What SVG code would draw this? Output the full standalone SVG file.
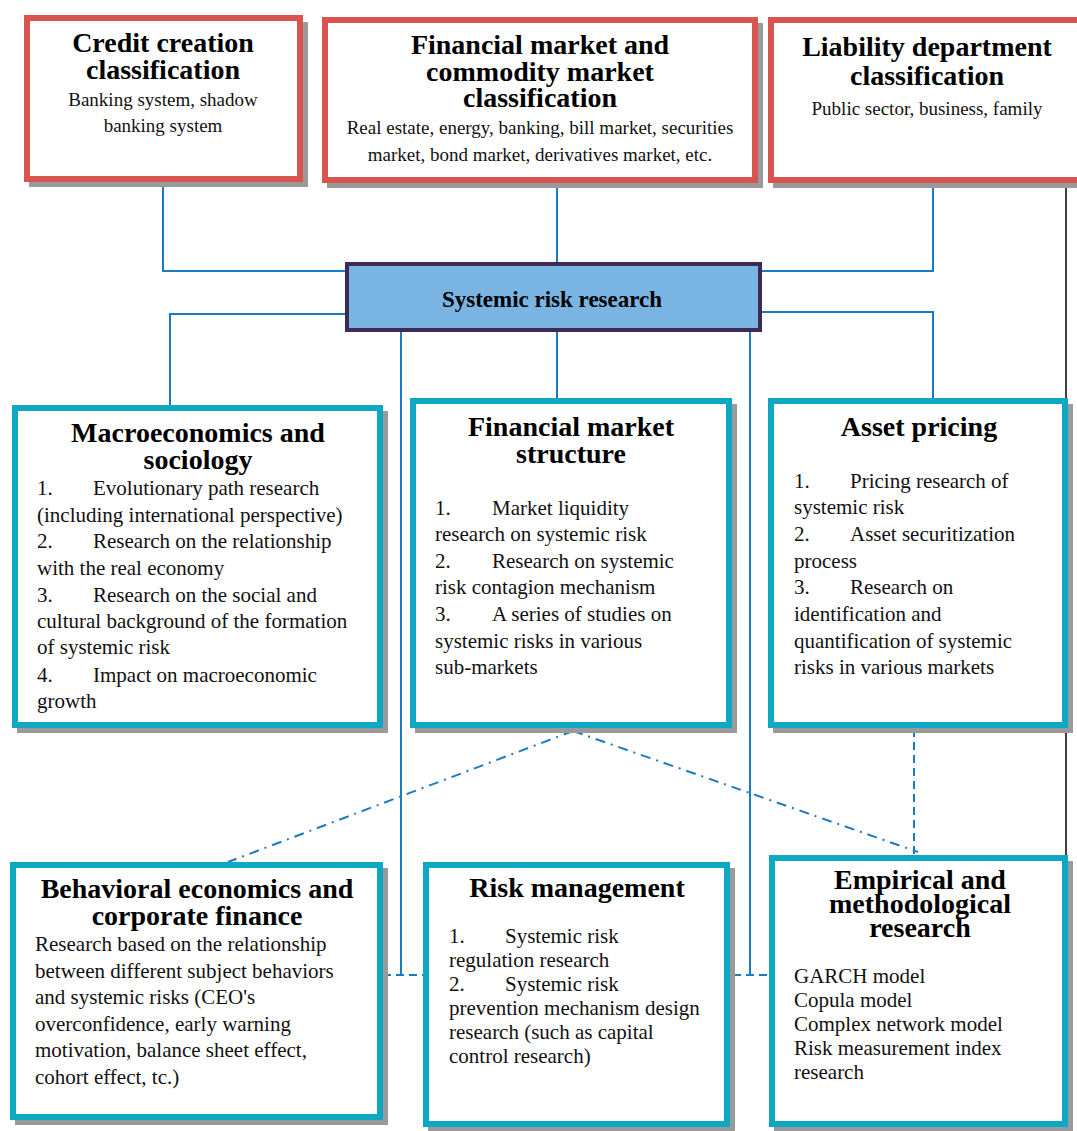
<svg xmlns="http://www.w3.org/2000/svg" width="1077" height="1131" viewBox="0 0 1077 1131">
  <style>
    .shadow { fill: #9a9a9a; }
    .redbox { fill: #ffffff; stroke: #d9534f; stroke-width: 6; }
    .tealbox { fill: #ffffff; stroke: #0ea8c5; stroke-width: 6; }
    .core { fill: #7ab4e3; stroke: #3e2b55; stroke-width: 4; }
    text { font-family: 'Liberation Serif', Tinos, 'Times New Roman', Times, 'Noto Serif', 'DejaVu Serif', serif; }
    .title { font-weight: bold; font-size: 28px; fill: #000; text-anchor: middle; }
    .sub { font-size: 19px; fill: #111; text-anchor: middle; }
    .body { font-size: 21px; fill: #111; }
    .link { fill: none; stroke: #1a7bc4; stroke-width: 2; }
    .dash { fill: none; stroke: #1a7bc4; stroke-width: 2; stroke-dasharray: 8 5; }
    .dashdot { fill: none; stroke: #1a7bc4; stroke-width: 2; stroke-dasharray: 10 6 2 6; }
    .frame { fill: none; stroke: #000; stroke-width: 1.5; }
  </style>

  <rect width="1077" height="1131" fill="#ffffff"/>

  <!-- right-hand frame rule -->
  <path class="frame" d="M1066,183 V1131"/>

  <!-- connectors -->
  <g id="connectors">
    <path class="link" d="M163,182 V271 H347"/>
    <path class="link" d="M557,183 V264"/>
    <path class="link" d="M933,183 V271 H760"/>
    <path class="link" d="M347,314 H170 V408"/>
    <path class="link" d="M557,330 V401"/>
    <path class="link" d="M760,312 H933 V401"/>
    <path class="link" d="M401,330 V975"/>
    <path class="link" d="M750,330 V975"/>
    <path class="dash" d="M383,975 H426"/>
    <path class="dash" d="M733,975 H772"/>
    <path class="dash" d="M914,729 V855"/>
    <path class="dashdot" d="M573,731 L228,862"/>
    <path class="dashdot" d="M573,731 L918,852"/>
  </g>

  <!-- top row -->
  <g id="credit-creation">
    <rect class="shadow" x="29" y="22" width="279" height="165"/>
    <rect class="redbox" x="27" y="18" width="273" height="161"/>
    <text class="title" x="163" y="52">Credit creation</text>
    <text class="title" x="163" y="79">classification</text>
    <text class="sub" x="163" y="106">Banking system, shadow</text>
    <text class="sub" x="163" y="132">banking system</text>
  </g>

  <g id="market-classification">
    <rect class="shadow" x="327" y="23" width="436" height="165"/>
    <rect class="redbox" x="325" y="20" width="430" height="160"/>
    <text class="title" x="540" y="54">Financial market and</text>
    <text class="title" x="540" y="81">commodity market</text>
    <text class="title" x="540" y="107">classification</text>
    <text class="sub" x="540" y="134">Real estate, energy, banking, bill market, securities</text>
    <text class="sub" x="540" y="161">market, bond market, derivatives market, etc.</text>
  </g>

  <g id="liability-classification">
    <rect class="shadow" x="773" y="23" width="330" height="165"/>
    <rect class="redbox" x="771" y="20" width="330" height="160"/>
    <text class="title" x="927" y="56">Liability department</text>
    <text class="title" x="927" y="85">classification</text>
    <text class="sub" x="927" y="115">Public sector, business, family</text>
  </g>

  <!-- hub -->
  <g id="systemic-risk-research">
    <rect class="core" x="347" y="264" width="413" height="66"/>
    <text class="title" x="552" y="307" style="font-size:23px">Systemic risk research</text>
  </g>

  <!-- middle row -->
  <g id="macroeconomics">
    <rect class="shadow" x="17" y="411" width="371" height="322"/>
    <rect class="tealbox" x="15" y="408" width="365" height="317"/>
    <text class="title" x="198" y="442">Macroeconomics and</text>
    <text class="title" x="198" y="469">sociology</text>
    <text class="body">
      <tspan x="37" y="495">1.</tspan><tspan x="93" y="495">Evolutionary path research</tspan>
      <tspan x="37" y="522">(including international perspective)</tspan>
      <tspan x="37" y="548">2.</tspan><tspan x="93" y="548">Research on the relationship</tspan>
      <tspan x="37" y="575">with the real economy</tspan>
      <tspan x="37" y="602">3.</tspan><tspan x="93" y="602">Research on the social and</tspan>
      <tspan x="37" y="628">cultural background of the formation</tspan>
      <tspan x="37" y="654">of systemic risk</tspan>
      <tspan x="37" y="682">4.</tspan><tspan x="93" y="682">Impact on macroeconomic</tspan>
      <tspan x="37" y="708">growth</tspan>
    </text>
  </g>

  <g id="market-structure">
    <rect class="shadow" x="415" y="404" width="322" height="329"/>
    <rect class="tealbox" x="413" y="401" width="316" height="324"/>
    <text class="title" x="571" y="436">Financial market</text>
    <text class="title" x="571" y="463">structure</text>
    <text class="body">
      <tspan x="435" y="515">1.</tspan><tspan x="492" y="515">Market liquidity</tspan>
      <tspan x="435" y="541">research on systemic risk</tspan>
      <tspan x="435" y="568">2.</tspan><tspan x="492" y="568">Research on systemic</tspan>
      <tspan x="435" y="594">risk contagion mechanism</tspan>
      <tspan x="435" y="621">3.</tspan><tspan x="492" y="621">A series of studies on</tspan>
      <tspan x="435" y="648">systemic risks in various</tspan>
      <tspan x="435" y="674">sub-markets</tspan>
    </text>
  </g>

  <g id="asset-pricing">
    <rect class="shadow" x="773" y="404" width="300" height="329"/>
    <rect class="tealbox" x="771" y="401" width="294" height="324"/>
    <text class="title" x="919" y="436">Asset pricing</text>
    <text class="body">
      <tspan x="794" y="488">1.</tspan><tspan x="850" y="488">Pricing research of</tspan>
      <tspan x="794" y="514">systemic risk</tspan>
      <tspan x="794" y="541">2.</tspan><tspan x="850" y="541">Asset securitization</tspan>
      <tspan x="794" y="568">process</tspan>
      <tspan x="794" y="594">3.</tspan><tspan x="850" y="594">Research on</tspan>
      <tspan x="794" y="621">identification and</tspan>
      <tspan x="794" y="648">quantification of systemic</tspan>
      <tspan x="794" y="674">risks in various markets</tspan>
    </text>
  </g>

  <!-- bottom row -->
  <g id="behavioral-economics">
    <rect class="shadow" x="15" y="868" width="373" height="257"/>
    <rect class="tealbox" x="13" y="865" width="367" height="252"/>
    <text class="title" x="197" y="898">Behavioral economics and</text>
    <text class="title" x="197" y="925">corporate finance</text>
    <text class="body">
      <tspan x="35" y="951">Research based on the relationship</tspan>
      <tspan x="35" y="978">between different subject behaviors</tspan>
      <tspan x="35" y="1004">and systemic risks (CEO's</tspan>
      <tspan x="35" y="1031">overconfidence, early warning</tspan>
      <tspan x="35" y="1057">motivation, balance sheet effect,</tspan>
      <tspan x="35" y="1084">cohort effect, tc.)</tspan>
    </text>
  </g>

  <g id="risk-management">
    <rect class="shadow" x="428" y="868" width="307" height="264"/>
    <rect class="tealbox" x="426" y="865" width="301" height="259"/>
    <text class="title" x="577" y="897">Risk management</text>
    <text class="body">
      <tspan x="449" y="943">1.</tspan><tspan x="505" y="943">Systemic risk</tspan>
      <tspan x="449" y="967">regulation research</tspan>
      <tspan x="449" y="991">2.</tspan><tspan x="505" y="991">Systemic risk</tspan>
      <tspan x="449" y="1015">prevention mechanism design</tspan>
      <tspan x="449" y="1039">research (such as capital</tspan>
      <tspan x="449" y="1063">control research)</tspan>
    </text>
  </g>

  <g id="empirical-research">
    <rect class="shadow" x="774" y="861" width="299" height="271"/>
    <rect class="tealbox" x="772" y="858" width="293" height="266"/>
    <text class="title" x="920" y="889">Empirical and</text>
    <text class="title" x="920" y="913">methodological</text>
    <text class="title" x="920" y="937">research</text>
    <text class="body">
      <tspan x="794" y="983">GARCH model</tspan>
      <tspan x="794" y="1007">Copula model</tspan>
      <tspan x="794" y="1031">Complex network model</tspan>
      <tspan x="794" y="1055">Risk measurement index</tspan>
      <tspan x="794" y="1079">research</tspan>
    </text>
  </g>
</svg>
